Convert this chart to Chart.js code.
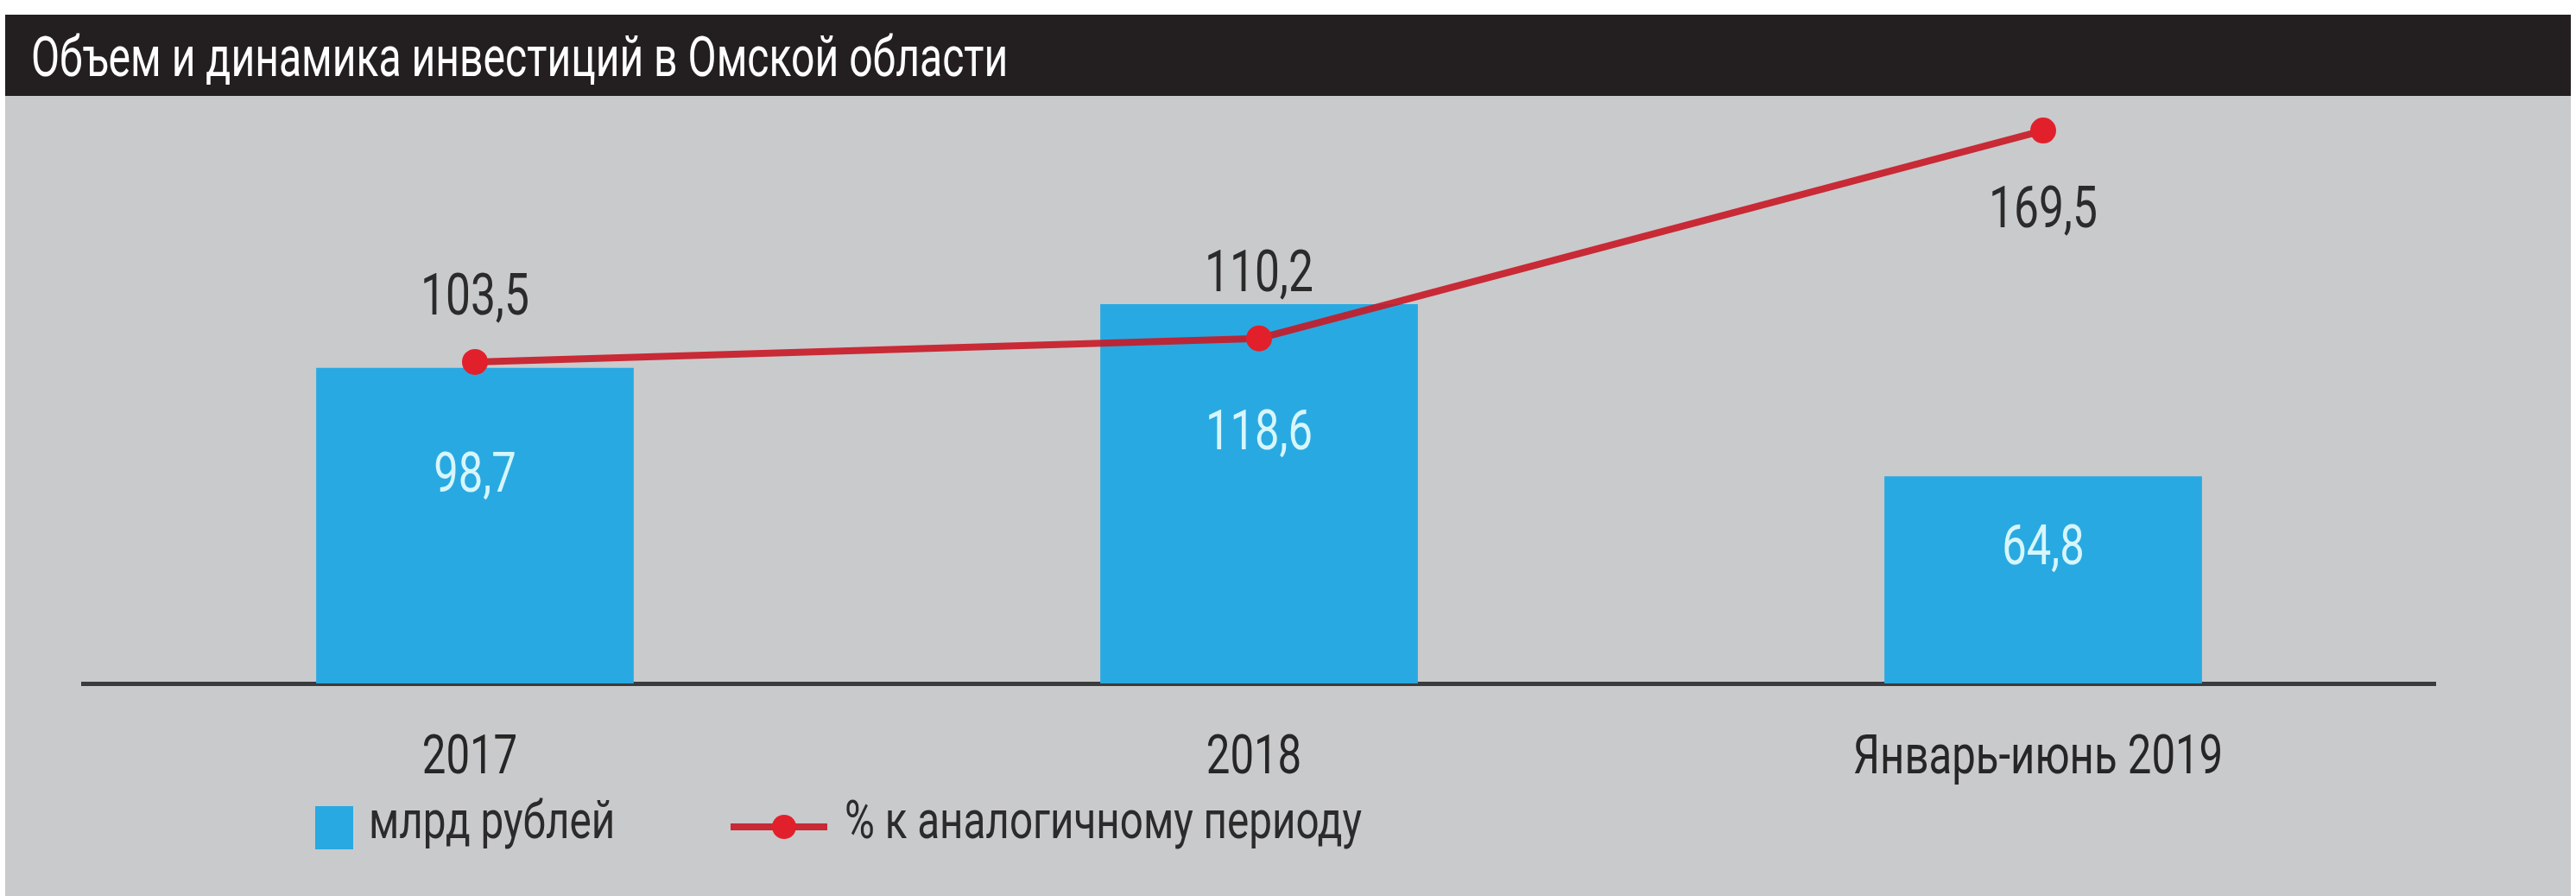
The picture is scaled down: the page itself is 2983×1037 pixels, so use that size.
<!DOCTYPE html>
<html lang="ru">
<head>
<meta charset="utf-8">
<title>Объем и динамика инвестиций в Омской области</title>
<script src="https://cdn.jsdelivr.net/npm/chart.js@4.4.1/dist/chart.umd.min.js"></script>
<style>
  html, body { margin: 0; padding: 0; background: #fff; }
  body {
    width: 2983px; height: 1037px; position: relative; overflow: hidden;
    font-family: Roboto, "Liberation Sans", sans-serif;
  }
  #head { position: absolute; left: 6px; top: 17px; width: 2971px; height: 94px; background: #231f20; }
  #head h1 {
    margin: 0; position: absolute; left: 30px; top: 17px;
    color: #fff; font-weight: normal; font-size: 65px; line-height: 1; white-space: nowrap;
    transform: scaleX(0.74); transform-origin: 0 0;
  }
  #panel { position: absolute; left: 6px; top: 111px; width: 2971px; height: 926px; background: #c9cacc; }
  #chart { position: absolute; left: 0; top: 0; }
  .lg {
    position: absolute; top: 919px; font-size: 61px; line-height: 1; color: #2b2b2b; white-space: nowrap;
    transform: scaleX(0.78); transform-origin: 0 0;
  }
  .swatch { position: absolute; }
</style>
</head>
<body>
<div id="head"><h1>Объем и динамика инвестиций в Омской области</h1></div>
<div id="panel"></div>
<canvas id="chart" width="2983" height="1037"></canvas>
<div id="legend"></div>

<script>
const categories = ["2017", "2018", "Январь-июнь 2019"];
const volume = [98.7, 118.6, 64.8];        // млрд рублей
const growth = [103.5, 110.2, 169.5];      // % к аналогичному периоду
const seriesNames = ["млрд рублей", "% к аналогичному периоду"];

const BLUE = "#29a9e1";
const RED = "#e2202b";
const LINE = "rgba(200,24,38,0.9)";
const FONT = "Roboto, 'Liberation Sans', sans-serif";
const SQUEEZE = 0.78;   // the original uses a condensed face

function fmt(v) {
  return v.toFixed(1).replace(".", ",");
}

// centred, horizontally condensed text; y is the middle of the capitals
function condensedText(ctx, txt, x, y, size, color) {
  ctx.save();
  ctx.font = size + "px " + FONT;
  ctx.fillStyle = color;
  ctx.textAlign = "center";
  ctx.textBaseline = "alphabetic";
  ctx.translate(x, y + 0.711 * size / 2);
  ctx.scale(SQUEEZE, 1);
  ctx.fillText(txt, 0, 0);
  ctx.restore();
}

const valueLabels = {
  id: "valueLabels",
  afterDraw(chart) {
    const ctx = chart.ctx;
    const area = chart.chartArea;
    chart.data.datasets.forEach((ds, i) => {
      chart.getDatasetMeta(i).data.forEach((el, j) => {
        const txt = fmt(ds.data[j]);
        if (ds.type === "bar") {
          condensedText(ctx, txt, el.x, el.y + 0.33 * (el.base - el.y), 65, "#d6f6fc");
        } else {
          const below = el.y - area.top < 150;
          condensedText(ctx, txt, el.x, below ? el.y + 88 : el.y - 78, 66, "#2b2b2b");
        }
      });
    });
    // category labels under the axis
    const x = chart.scales.x;
    chart.data.labels.forEach((lab, i) => {
      condensedText(ctx, lab, x.getPixelForTick(i) - 6, x.top + 82, 63, "#262626");
    });
  }
};

new Chart(document.getElementById("chart"), {
  data: {
    labels: categories,
    datasets: [
      {
        type: "line",
        label: seriesNames[1],
        data: growth,
        yAxisID: "y2",
        borderColor: LINE,
        borderWidth: 8,
        pointRadius: 15,
        pointBackgroundColor: RED,
        pointBorderWidth: 0,
        tension: 0,
        order: 0
      },
      {
        type: "bar",
        label: seriesNames[0],
        data: volume,
        yAxisID: "y",
        backgroundColor: BLUE,
        categoryPercentage: 1,
        barPercentage: 0.405,
        order: 1
      }
    ]
  },
  options: {
    responsive: false,
    animation: false,
    devicePixelRatio: 1,
    layout: { padding: { left: 96, right: 163, top: 130, bottom: 0 } },
    plugins: {
      legend: { display: false },
      tooltip: { enabled: false },
      title: { display: false }
    },
    scales: {
      x: {
        z: 1,
        grid: { display: false, drawTicks: false },
        border: { display: true, color: "#3b3b3d", width: 5 },
        ticks: { display: false },
        afterFit(s) { s.height = 246; }
      },
      y: { display: false, min: 0, max: 178.6 },
      y2: { display: false, min: 11.8, max: 174.7 }
    }
  },
  plugins: [valueLabels]
});

// legend built from the series names
document.getElementById("legend").innerHTML =
  '<div class="swatch" style="left:365px;top:933px;width:44px;height:50px;background:' + BLUE + '"></div>' +
  '<div class="lg" style="left:427px">' + seriesNames[0] + '</div>' +
  '<div class="swatch" style="left:846px;top:953px;width:112px;height:8px;background:' + LINE + '"></div>' +
  '<div class="swatch" style="left:894px;top:943px;width:28px;height:28px;border-radius:50%;background:' + RED + '"></div>' +
  '<div class="lg" style="left:978px">' + seriesNames[1] + '</div>';
</script>
</body>
</html>
